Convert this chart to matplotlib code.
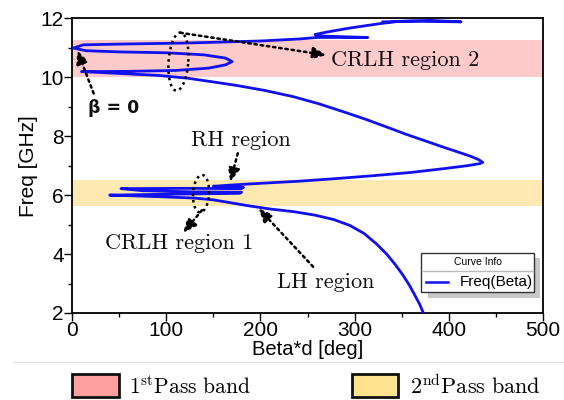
import numpy as np
import matplotlib
matplotlib.use("Agg")
import matplotlib.pyplot as plt
from matplotlib.patches import Rectangle
from matplotlib.lines import Line2D

plt.rcParams['mathtext.fontset'] = 'cm'

# ---- data ----
beta_deg = [373, 369, 364, 358, 351, 343, 334, 323, 310, 295, 278, 258, 235, 210, 185, 165, 150,
            130, 90, 40, 100, 178, 180, 130, 75, 52, 120, 180, 182, 150,
            168, 200, 240, 280, 320, 360, 395, 420, 433, 436, 432, 423, 410, 394, 375, 355, 335,
            312, 288, 262, 235, 205, 175, 148, 122,
            92, 50, 10, 60, 110, 145, 163, 170, 163, 140, 100, 50, 15, 1.5,
            12, 60, 120, 200, 242, 260, 314, 262, 258, 270, 295, 327, 348, 380, 413, 360, 330]
freq_ghz = [2.0, 2.3, 2.6, 2.95, 3.3, 3.65, 4.0, 4.35, 4.7, 4.97, 5.17, 5.32, 5.44, 5.53, 5.65, 5.76, 5.84,
            5.90, 5.95, 6.00, 6.03, 6.06, 6.10, 6.11, 6.15, 6.22, 6.23, 6.22, 6.26, 6.30,
            6.34, 6.40, 6.47, 6.56, 6.66, 6.77, 6.90, 7.00, 7.07, 7.11, 7.20, 7.32, 7.46, 7.63, 7.84, 8.06, 8.30,
            8.57, 8.83, 9.10, 9.34, 9.55, 9.72, 9.85, 9.97,
            10.06, 10.13, 10.19, 10.20, 10.23, 10.31, 10.42, 10.53, 10.65, 10.76, 10.83, 10.86, 10.90, 10.99,
            11.10, 11.13, 11.16, 11.23, 11.30, 11.35, 11.35, 11.40, 11.45, 11.53, 11.67, 11.82, 11.90, 11.93, 11.88, 11.90, 11.88]

band1 = (10.0, 11.25)   # 1st pass band [GHz]
band2 = (5.63, 6.53)    # 2nd pass band [GHz]
xticks = [0, 100, 200, 300, 400, 500]
yticks = [2, 4, 6, 8, 10, 12]

W, H = 564, 400
fig = plt.figure(figsize=(W / 100, H / 100), dpi=100)

def fx(px):
    return px / W

def fy(py):
    return 1 - py / H

ax = fig.add_axes([fx(72), fy(313), fx(543) - fx(72), fy(18.3) - fy(313)])
ax.set_xlim(0, 500)
ax.set_ylim(2, 12)

ax.axhspan(band1[0], band1[1], color='#ffcaca', lw=0, zorder=0)
ax.axhspan(band2[0], band2[1], color='#ffe9b0', lw=0, zorder=0)

ax.plot(beta_deg, freq_ghz, color='#1010f0', lw=2.0, zorder=3, solid_joinstyle='round')

tickfont = dict(family='Liberation Sans', size=15)
ax.set_xticks(xticks)
ax.set_yticks(yticks)
ax.set_xticklabels([str(t) for t in xticks], **tickfont)
ax.set_yticklabels([str(t) for t in yticks], **tickfont)
ax.set_xticks(np.arange(50, 500, 100), minor=True)
ax.set_yticks(np.arange(3, 12, 2), minor=True)
ax.tick_params(which='major', direction='out', length=6, width=1, pad=0)
ax.tick_params(which='minor', direction='out', length=3, width=1)
for s in ax.spines.values():
    s.set_linewidth(1.3)
ax.set_xlabel('Beta*d [deg]', family='Liberation Sans', size=14.5, labelpad=0)
ax.set_ylabel('Freq [GHz]', family='Liberation Sans', size=15, labelpad=2)

# ---- dotted ellipses ----
def dotted_ellipse(cx, cy, w, h, tilt):
    t = np.linspace(0, 2 * np.pi, 200)
    x = cx + w / 2 * np.cos(t) + tilt * np.sin(t)
    y = cy + h / 2 * np.sin(t)
    ax.plot(x, y, color='black', lw=1.8, ls=(0, (1, 1.5)), zorder=5)

dotted_ellipse(113, 10.53, 21, 1.97, 2)
dotted_ellipse(137, 6.05, 17, 1.27, 1)

# ---- dotted arrows ----
def darrow(start, end):
    ax.annotate('', xy=end, xytext=start,
                arrowprops=dict(arrowstyle='-|>,head_length=0.8,head_width=0.35',
                                color='black', lw=1.8, ls=(0, (1, 1.5)),
                                shrinkA=0, shrinkB=0), zorder=6)

darrow((115, 11.51), (270, 10.75))
darrow((23, 9.45), (5.5, 10.92))
darrow((176, 7.42), (168, 6.45))
darrow((138, 5.49), (118, 4.72))
darrow((256, 3.57), (198, 5.55))

serif = dict(family='cmr10', size=16, color='#111111')
ax.text(275, 10.58, 'CRLH region 2', ha='left', va='center', **serif)
ax.text(179, 7.87, 'RH region', ha='center', va='center', **serif)
ax.text(114, 4.37, 'CRLH region 1', ha='center', va='center', **serif)
ax.text(269, 3.06, 'LH region', ha='center', va='center', **serif)
ax.text(17, 8.95, 'β = 0', ha='left', va='center', family='DejaVu Sans',
        weight='bold', size=12.5, color='#111111')

# ---- "Curve Info" box (figure pixels) ----
fig.patches.append(Rectangle((fx(428), fy(298)), fx(540) - fx(428), fy(258) - fy(298),
                             transform=fig.transFigure, facecolor='#c8c8c8', edgecolor='none', zorder=5))
fig.patches.append(Rectangle((fx(421), fy(292.3)), fx(534) - fx(421), fy(252.7) - fy(292.3),
                             transform=fig.transFigure, facecolor='white', edgecolor='#333333', lw=1, zorder=6))
fig.lines.append(Line2D([fx(422), fx(533)], [fy(270.7), fy(270.7)], transform=fig.transFigure,
                        color='#bbbbbb', lw=1, zorder=7))
fig.text(fx(477.5), fy(262), 'Curve Info', ha='center', va='center', family='Liberation Sans',
         size=7.5, zorder=8)
fig.lines.append(Line2D([fx(426), fx(448)], [fy(281.7), fy(281.7)], transform=fig.transFigure,
                        color='#1010f0', lw=1.8, zorder=8))
fig.text(fx(460), fy(281.7), 'Freq(Beta)', ha='left', va='center', family='Liberation Sans',
         size=11, zorder=8)

# ---- separator and bottom legend ----
fig.lines.append(Line2D([fx(14), fx(564)], [fy(362), fy(362)], transform=fig.transFigure,
                        color='#e2e2e2', lw=1))
fig.patches.append(Rectangle((fx(72), fy(397)), fx(119) - fx(72), fy(374) - fy(397),
                             transform=fig.transFigure, facecolor='#ffa0a0', edgecolor='#111111', lw=2))
fig.patches.append(Rectangle((fx(352), fy(397)), fx(398) - fx(352), fy(374) - fy(397),
                             transform=fig.transFigure, facecolor='#ffe38f', edgecolor='#111111', lw=2))
fig.text(fx(129), fy(386), r'$\mathrm{1^{st}Pass\ band}$', ha='left', va='center', size=15.5)
fig.text(fx(410), fy(386), r'$\mathrm{2^{nd}Pass\ band}$', ha='left', va='center', size=16)

fig.savefig('out.png', dpi=100)
